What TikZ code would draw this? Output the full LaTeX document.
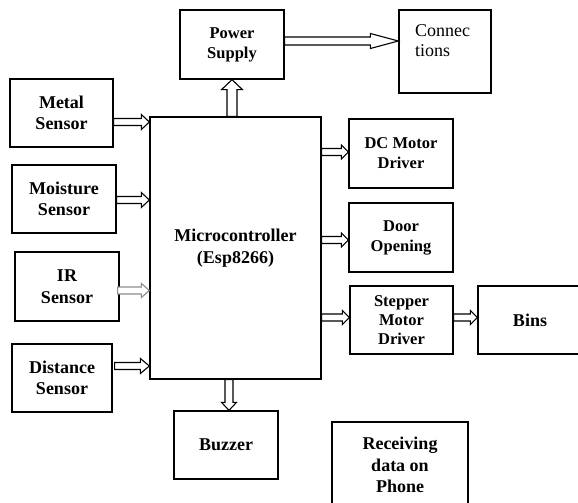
\documentclass[tikz,border=0pt]{standalone}
\usepackage{fontspec}
\setmainfont{Liberation Serif}
\usetikzlibrary{calc}
\tikzset{
  box/.style={draw, line width=1.3pt, inner sep=0pt, align=center,
    font=\bfseries\fontsize{18}{21.5}\selectfont},
  boxs/.style={box, font=\bfseries\fontsize{16.5}{20}\selectfont},
  arr/.style={draw=black, fill=white, line width=1.1pt, line join=miter},
  arrg/.style={arr, draw=black!45},
}
% block arrow: [style]{start}{end}{half shaft}{half head}{head length}
\newcommand\blk[6][]{%
  \path[arr,#1] let \p1=(#2), \p2=(#3), \n1={atan2(\y2-\y1,\x2-\x1)} in
    ($(\p1)+(\n1-90:#4pt)$)
    -- ($(\p2)+(\n1+180:#6pt)+(\n1-90:#4pt)$)
    -- ($(\p2)+(\n1+180:#6pt)+(\n1-90:#5pt)$)
    -- (\p2)
    -- ($(\p2)+(\n1+180:#6pt)+(\n1+90:#5pt)$)
    -- ($(\p2)+(\n1+180:#6pt)+(\n1+90:#4pt)$)
    -- ($(\p1)+(\n1+90:#4pt)$) -- cycle;
}
\begin{document}
\begin{tikzpicture}[x=1pt,y=-1pt]
\clip (0,0) rectangle (578,503);
\fill[white] (0,0) rectangle (578,503);

% nodes
\node[boxs, minimum width=104pt, minimum height=69pt] (power) at (232,44.5) {Power\\Supply};
\node[draw, line width=1.3pt, minimum width=92pt, minimum height=83pt] (conn) at (445,51.5) {};
\node[anchor=north west, inner sep=0pt, align=left, font=\fontsize{18}{20}\selectfont] (conntext) at (415,24) {Connec\\tions};

\node[box, minimum width=103pt, minimum height=68pt] (metal) at (61.5,113) {Metal\\Sensor};
\node[box, minimum width=104pt, minimum height=68pt] (moist) at (64,199) {Moisture\\Sensor};
\node[box, minimum width=104pt, minimum height=69pt] (ir) at (67,286.5) {IR\\Sensor};
\node[box, minimum width=100pt, minimum height=68pt] (dist) at (62,378) {Distance\\Sensor};

\node[box, minimum width=171pt, minimum height=262pt] (mc) at (235.5,248) {Microcontroller\\(Esp8266)};

\node[box, minimum width=104pt, minimum height=68pt] (buzz) at (226,445) {Buzzer};

\node[boxs, minimum width=104pt, minimum height=69pt] (dc) at (401,153.5) {DC Motor\\Driver};
\node[boxs, minimum width=104pt, minimum height=69pt] (door) at (401,237.5) {Door\\Opening};
\node[boxs, font=\bfseries\fontsize{16.5}{19}\selectfont, minimum width=103pt, minimum height=68pt] (step) at (401.5,320) {Stepper\\Motor\\Driver};
\node[box, minimum width=104pt, minimum height=68pt] (bins) at (530,320) {Bins};

\node[box, minimum width=136pt, minimum height=86pt] (recv) at (400,465) {Receiving\\data on\\Phone};

% arrow anchor points
\coordinate (pm) at ([yshift=-9pt]metal.east);
\coordinate (pmo) at ([yshift=-1pt]moist.east);
\coordinate (pir) at ([yshift=-4pt,xshift=-2pt]ir.east);
\coordinate (pd) at ([yshift=12pt,xshift=2pt]dist.east);
\coordinate (pc) at ([yshift=3.5pt]power.east);
\coordinate (pdc) at ([yshift=1.5pt]dc.west);
\coordinate (pdo) at ([yshift=-2.5pt]door.west);
\coordinate (pst) at ([yshift=2.5pt]step.west);
\coordinate (pbi) at ([yshift=2.5pt]bins.west);
\coordinate (pbz) at ([xshift=3pt]buzz.north);

% connectors
\blk{pm}{mc.west |- pm}{3.5}{7.5}{8}
\blk{pmo}{mc.west |- pmo}{3.5}{7.5}{8}
\blk[arrg]{pir}{mc.west |- pir}{3.5}{7}{8}
\blk{pd}{mc.west |- pd}{3.5}{7.5}{9}
\blk{power.south |- mc.north}{power.south}{5}{10.5}{10}
\blk{pc}{conn.west |- pc}{4}{7.5}{28}
\blk{mc.south -| pbz}{pbz}{4}{7.5}{8}
\blk{mc.east |- pdc}{pdc}{3.5}{7}{7}
\blk{mc.east |- pdo}{pdo}{3.5}{7}{7}
\blk{mc.east |- pst}{pst}{3.5}{7}{7}
\blk{step.east |- pbi}{pbi}{3.5}{7}{7}
\end{tikzpicture}
\end{document}
